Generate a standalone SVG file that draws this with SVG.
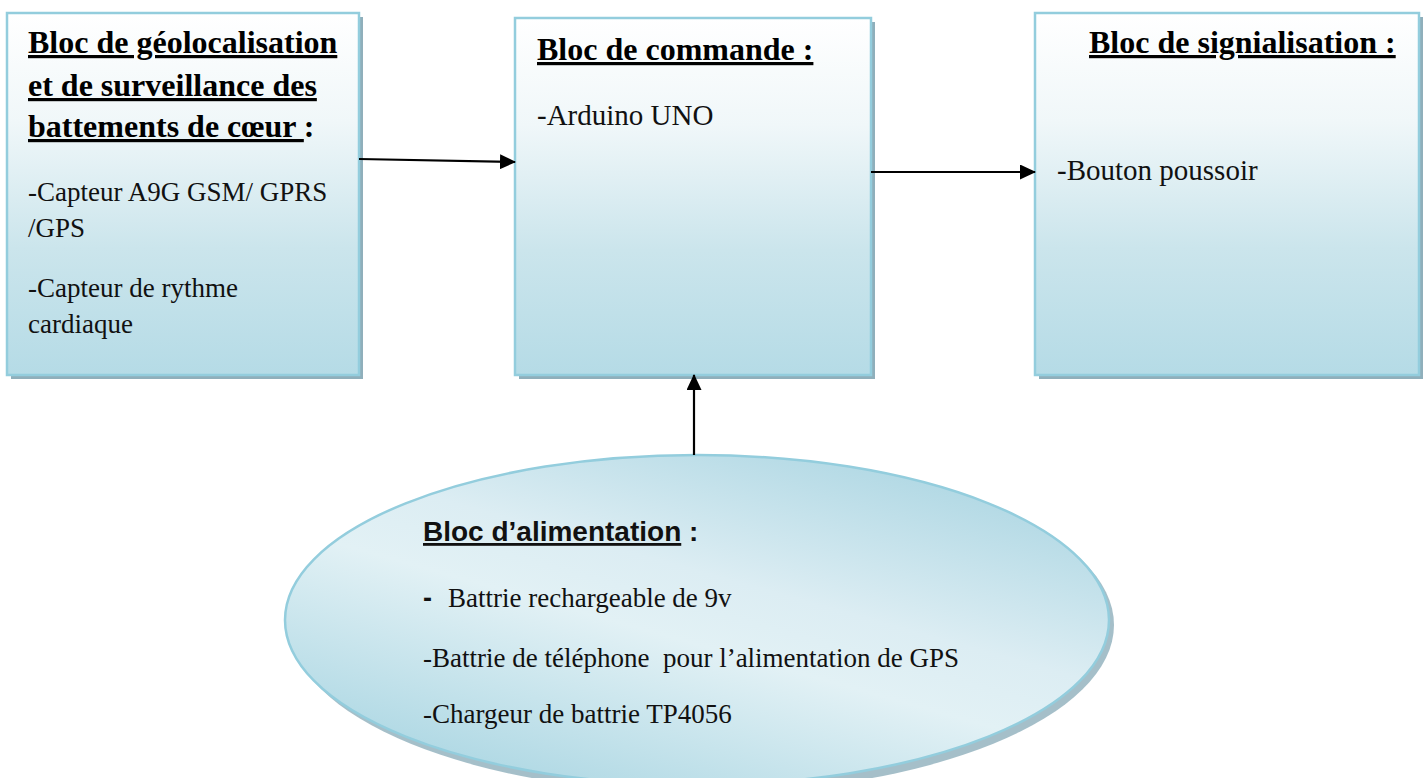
<svg xmlns="http://www.w3.org/2000/svg" width="1427" height="778" viewBox="0 0 1427 778">
<style>
.box{stroke:#93cddd;stroke-width:2.5;fill:url(#bg)}
.shadow{fill:#8fafbb}
.title{font-family:"Liberation Serif","Times New Roman",serif;font-weight:bold;font-size:32px;fill:#000}
.body{font-family:"Liberation Serif","Times New Roman",serif;font-size:27px;fill:#111}
.u{text-decoration:underline}
.conn{stroke:#000;stroke-width:2.2;fill:none}
</style>
<defs>
<linearGradient id="bg" x1="0" y1="0" x2="0" y2="1">
<stop offset="0" stop-color="#ffffff"/>
<stop offset="0.3" stop-color="#f0f7f9"/>
<stop offset="0.65" stop-color="#cbe5ec"/>
<stop offset="1" stop-color="#b5dbe6"/>
</linearGradient>
<linearGradient id="eg" x1="0.15" y1="1" x2="0.85" y2="0">
<stop offset="0" stop-color="#a6d4e1"/>
<stop offset="0.45" stop-color="#e2f1f5"/>
<stop offset="0.6" stop-color="#dcedf3"/>
<stop offset="1" stop-color="#a8d4e1"/>
</linearGradient>
<marker id="ah" markerWidth="16" markerHeight="15" refX="15" refY="7.5" orient="auto" markerUnits="userSpaceOnUse">
<path d="M0,0 L16,7.5 L0,15 Z" fill="#000"/>
</marker>
</defs>

<g id="node-geoloc">
<rect class="shadow" x="11" y="17" width="352" height="362"/>
<rect class="box" x="7" y="13" width="352" height="362"/>
<text class="title" x="28" y="53"><tspan class="u">Bloc de géolocalisation</tspan></text>
<text class="title" x="28" y="96"><tspan class="u">et de surveillance des</tspan></text>
<text class="title" x="28" y="137"><tspan class="u">battements de cœur </tspan>:</text>
<text class="body" x="28" y="201">-Capteur A9G GSM/ GPRS</text>
<text class="body" x="28" y="237">/GPS</text>
<text class="body" x="28" y="297">-Capteur de rythme</text>
<text class="body" x="28" y="333">cardiaque</text>
</g>

<g id="node-commande">
<rect class="shadow" x="519" y="22" width="356" height="357"/>
<rect class="box" x="515" y="18" width="356" height="357"/>
<text class="title" x="537" y="60"><tspan class="u">Bloc de commande :</tspan></text>
<text class="body" x="537" y="125" style="font-size:29px">-Arduino UNO</text>
</g>

<g id="node-signalisation">
<rect class="shadow" x="1039" y="17" width="384" height="362"/>
<rect class="box" x="1035" y="13" width="384" height="362"/>
<text class="title" x="1089" y="53"><tspan class="u">Bloc de signialisation :</tspan></text>
<text class="body" x="1057" y="180" style="font-size:29px">-Bouton poussoir</text>
</g>

<g id="node-alimentation">
<ellipse cx="702" cy="625" rx="412" ry="168" fill="#8fafbb" opacity="0.8"/>
<ellipse cx="697" cy="620" rx="412" ry="165" fill="url(#eg)" stroke="#93cddd" stroke-width="2.5"/>
<text x="423" y="541" style="font-family:'Liberation Sans',Arial,sans-serif;font-weight:bold;font-size:28px;fill:#111"><tspan class="u">Bloc d’alimentation</tspan> :</text>
<text class="body" x="423" y="607"><tspan style="font-family:'Liberation Sans',Arial,sans-serif;font-weight:bold">-</tspan><tspan x="448">Battrie rechargeable de 9v</tspan></text>
<text class="body" x="423" y="667" xml:space="preserve">-Battrie de téléphone  pour l’alimentation de GPS</text>
<text class="body" x="423" y="723">-Chargeur de battrie TP4056</text>
</g>

<g id="connectors">
<line class="conn" x1="359" y1="159" x2="515" y2="162" marker-end="url(#ah)"/>
<line class="conn" x1="871" y1="172" x2="1035" y2="172" marker-end="url(#ah)"/>
<line class="conn" x1="694" y1="455" x2="694" y2="375" marker-end="url(#ah)"/>
</g>
</svg>
